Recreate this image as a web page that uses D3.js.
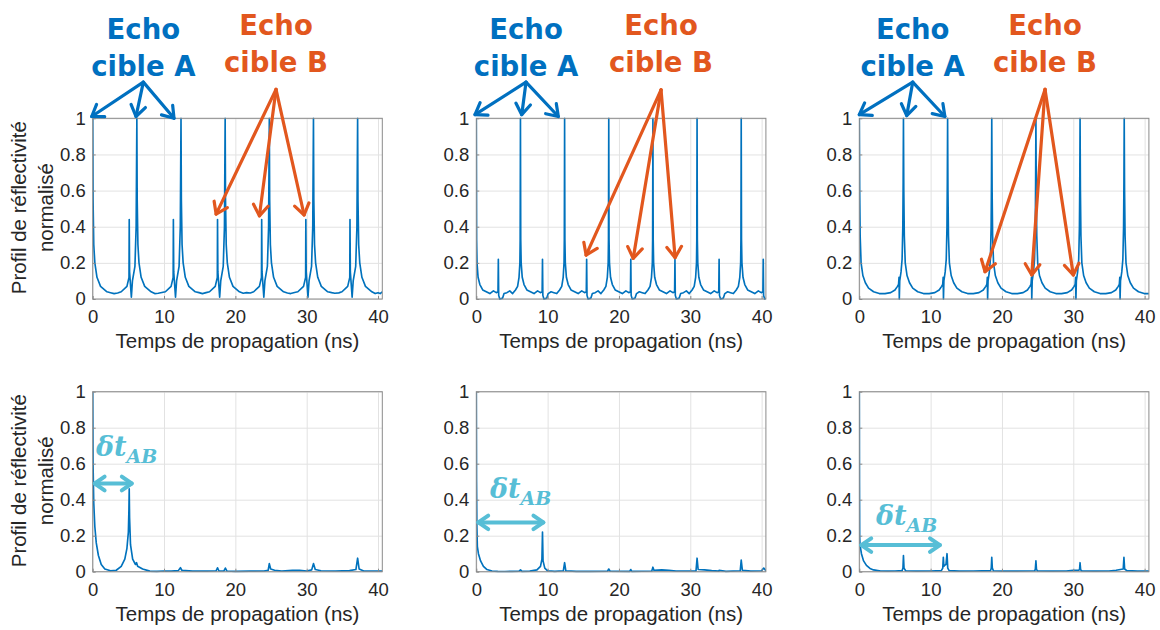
<!DOCTYPE html>
<html><head><meta charset="utf-8">
<script src="https://cdn.jsdelivr.net/npm/d3@7"></script>
<style>body{margin:0;background:#fff}</style>
</head><body>
<svg id="chart" width="1160" height="630"></svg>
<script>
// ---------------- DATA ----------------
const xTicks = [0, 10, 20, 30, 40];
const yTicks = [0, 0.2, 0.4, 0.6, 0.8, 1];
const yTickLabels = ["0", "0.2", "0.4", "0.6", "0.8", "1"];
const xLabel = "Temps de propagation (ns)";
const yLabelLines = ["Profil de réflectivité", "normalisé"];
const labelA = ["Echo", "cible A"];
const labelB = ["Echo", "cible B"];

// top-left: targets A (period 6.19 ns) + B (0.44)
const topLeft = [
[0,1],[0.05,0.55],[0.15,0.3],[0.3,0.2],[0.6,0.12],[1.1,0.07],[2,0.04],[2.5,0.035],[3,0.03],[3.5,0.033],[4,0.04],[4.8,0.07],[5.09,0.12],[5.12,0.44],[5.17,0.15],[5.42,0.01],[5.57,0.1],[5.92,0.18],[6.09,0.4],[6.19,1],
[6.24,0.55],[6.34,0.3],[6.49,0.2],[6.79,0.12],[7.29,0.07],[8.19,0.04],[8.7,0.03],[9.19,0.032],[9.7,0.036],[10.19,0.04],[10.99,0.07],[11.28,0.12],[11.31,0.44],[11.36,0.15],[11.61,0.01],[11.76,0.1],[12.11,0.18],[12.28,0.4],[12.38,1],
[12.43,0.55],[12.53,0.3],[12.68,0.2],[12.98,0.12],[13.48,0.07],[14.38,0.04],[14.9,0.035],[15.38,0.03],[15.9,0.035],[16.38,0.04],[17.18,0.07],[17.47,0.12],[17.5,0.44],[17.55,0.15],[17.8,0.01],[17.95,0.1],[18.3,0.18],[18.47,0.4],[18.57,1],
[18.62,0.55],[18.72,0.3],[18.87,0.2],[19.17,0.12],[19.67,0.07],[20.57,0.04],[21.1,0.032],[21.57,0.035],[22.1,0.033],[22.57,0.04],[23.37,0.07],[23.66,0.12],[23.69,0.44],[23.74,0.15],[23.99,0.01],[24.14,0.1],[24.49,0.18],[24.66,0.4],[24.76,1],
[24.81,0.55],[24.91,0.3],[25.06,0.2],[25.36,0.12],[25.86,0.07],[26.76,0.04],[27.3,0.033],[27.76,0.03],[28.3,0.036],[28.76,0.04],[29.56,0.07],[29.85,0.12],[29.88,0.44],[29.93,0.15],[30.18,0.01],[30.33,0.1],[30.68,0.18],[30.85,0.4],[30.95,1],
[31.0,0.55],[31.1,0.3],[31.25,0.2],[31.55,0.12],[32.05,0.07],[32.95,0.04],[33.5,0.035],[33.95,0.032],[34.5,0.034],[34.95,0.04],[35.75,0.07],[36.04,0.12],[36.07,0.44],[36.12,0.15],[36.37,0.01],[36.52,0.1],[36.87,0.18],[37.04,0.4],[37.14,1],
[37.19,0.55],[37.29,0.3],[37.44,0.2],[37.74,0.12],[38.24,0.07],[39.14,0.04],[39.6,0.03],[40.0,0.035],[40.3,0.03],[40.6,0.04]
];

// top-middle: targets A + B (0.22), B halfway between A echoes
const topMiddle = [
[0,1],[0.04,0.33],[0.1,0.2],[0.25,0.12],[0.5,0.08],[0.9,0.05],[1.4,0.04],[1.9,0.03],[2.4,0.045],[2.8,0.035],[3.04,0.04],[3.09,0.22],[3.14,0.02],[3.29,0.0],[3.69,0.005],[3.89,0.03],[4.29,0.035],[4.69,0.045],[5.09,0.03],[5.49,0.05],[5.79,0.07],[5.99,0.12],[6.11,0.2],[6.15,0.33],[6.19,1],
[6.23,0.33],[6.29,0.2],[6.44,0.12],[6.69,0.08],[7.09,0.05],[7.59,0.04],[8.09,0.03],[8.59,0.045],[8.99,0.035],[9.23,0.04],[9.28,0.22],[9.33,0.02],[9.48,0.0],[9.88,0.005],[10.08,0.03],[10.48,0.04],[10.88,0.035],[11.28,0.03],[11.68,0.05],[11.98,0.07],[12.18,0.12],[12.3,0.2],[12.34,0.33],[12.38,1],
[12.42,0.33],[12.48,0.2],[12.63,0.12],[12.88,0.08],[13.28,0.05],[13.78,0.04],[14.28,0.03],[14.78,0.045],[15.18,0.035],[15.42,0.04],[15.47,0.22],[15.52,0.02],[15.67,0.0],[16.07,0.005],[16.27,0.03],[16.67,0.035],[17.07,0.045],[17.47,0.03],[17.87,0.05],[18.17,0.07],[18.37,0.12],[18.49,0.2],[18.53,0.33],[18.57,1],
[18.61,0.33],[18.67,0.2],[18.82,0.12],[19.07,0.08],[19.47,0.05],[19.97,0.04],[20.47,0.03],[20.97,0.045],[21.37,0.035],[21.61,0.04],[21.66,0.22],[21.71,0.02],[21.86,0.0],[22.26,0.005],[22.46,0.03],[22.86,0.04],[23.26,0.035],[23.66,0.03],[24.06,0.05],[24.36,0.07],[24.56,0.12],[24.68,0.2],[24.72,0.33],[24.76,1],
[24.8,0.33],[24.86,0.2],[25.01,0.12],[25.26,0.08],[25.66,0.05],[26.16,0.04],[26.66,0.03],[27.16,0.045],[27.56,0.035],[27.8,0.04],[27.85,0.22],[27.9,0.02],[28.05,0.0],[28.45,0.005],[28.65,0.03],[29.05,0.035],[29.45,0.045],[29.85,0.03],[30.25,0.05],[30.55,0.07],[30.75,0.12],[30.87,0.2],[30.91,0.33],[30.95,1],
[30.99,0.33],[31.05,0.2],[31.2,0.12],[31.45,0.08],[31.85,0.05],[32.35,0.04],[32.85,0.03],[33.35,0.045],[33.75,0.035],[33.99,0.04],[34.04,0.22],[34.09,0.02],[34.24,0.0],[34.64,0.005],[34.84,0.03],[35.24,0.04],[35.64,0.035],[36.04,0.03],[36.44,0.05],[36.74,0.07],[36.94,0.12],[37.06,0.2],[37.1,0.33],[37.14,1],
[37.18,0.33],[37.24,0.2],[37.39,0.12],[37.64,0.08],[38.04,0.05],[38.54,0.04],[39.04,0.03],[39.54,0.045],[39.94,0.035],[40.18,0.04],[40.23,0.22],[40.28,0.02],[40.43,0.0],[40.6,0.005]
];

// top-right: targets A + weak B just before each A echo
const topRight = [
[0,1],[0.05,0.6],[0.12,0.35],[0.25,0.2],[0.5,0.13],[0.85,0.09],[1.3,0.06],[2,0.04],[2.8,0.03],[3.6,0.03],[4.4,0.035],[5,0.05],[5.35,0.07],[5.5,0.08],[5.57,0.12],[5.61,0.0],[5.67,0.1],[5.85,0.15],[6.0,0.22],[6.1,0.4],[6.15,0.65],[6.19,1],
[6.24,0.6],[6.31,0.35],[6.44,0.2],[6.69,0.13],[7.04,0.09],[7.49,0.06],[8.19,0.04],[8.99,0.03],[9.79,0.03],[10.59,0.035],[11.19,0.05],[11.54,0.07],[11.69,0.08],[11.76,0.12],[11.8,0.0],[11.86,0.1],[12.04,0.15],[12.19,0.22],[12.29,0.4],[12.34,0.65],[12.38,1],
[12.43,0.6],[12.5,0.35],[12.63,0.2],[12.88,0.13],[13.23,0.09],[13.68,0.06],[14.38,0.04],[15.18,0.03],[15.98,0.03],[16.78,0.035],[17.38,0.05],[17.73,0.07],[17.88,0.08],[17.95,0.12],[17.99,0.0],[18.05,0.1],[18.23,0.15],[18.38,0.22],[18.48,0.4],[18.53,0.65],[18.57,1],
[18.62,0.6],[18.69,0.35],[18.82,0.2],[19.07,0.13],[19.42,0.09],[19.87,0.06],[20.57,0.04],[21.37,0.03],[22.17,0.03],[22.97,0.035],[23.57,0.05],[23.92,0.07],[24.07,0.08],[24.14,0.12],[24.18,0.0],[24.24,0.1],[24.42,0.15],[24.57,0.22],[24.67,0.4],[24.72,0.65],[24.76,1],
[24.81,0.6],[24.88,0.35],[25.01,0.2],[25.26,0.13],[25.61,0.09],[26.06,0.06],[26.76,0.04],[27.56,0.03],[28.36,0.03],[29.16,0.035],[29.76,0.05],[30.11,0.07],[30.26,0.08],[30.33,0.12],[30.37,0.0],[30.43,0.1],[30.61,0.15],[30.76,0.22],[30.86,0.4],[30.91,0.65],[30.95,1],
[31.0,0.6],[31.07,0.35],[31.2,0.2],[31.45,0.13],[31.8,0.09],[32.25,0.06],[32.95,0.04],[33.75,0.03],[34.55,0.03],[35.35,0.035],[35.95,0.05],[36.3,0.07],[36.45,0.08],[36.52,0.12],[36.56,0.0],[36.62,0.1],[36.8,0.15],[36.95,0.22],[37.05,0.4],[37.1,0.65],[37.14,1],
[37.19,0.6],[37.26,0.35],[37.39,0.2],[37.64,0.13],[37.99,0.09],[38.44,0.06],[39.14,0.04],[39.94,0.03],[40.6,0.03]
];

// bottom-left: processed profile, B echo at 5.1 ns
const bottomLeft = [
[0,1],[0.05,0.6],[0.15,0.38],[0.3,0.25],[0.5,0.16],[0.8,0.09],[1.2,0.04],[1.7,0.015],[2.5,0.005],[3.3,0.008],[4,0.03],[4.5,0.07],[4.8,0.13],[5.0,0.22],[5.08,0.35],[5.12,0.46],[5.17,0.3],[5.3,0.15],[5.6,0.07],[6.0,0.04],[6.15,0.05],[6.3,0.03],[7,0.015],[8,0.003],[9,0.002],[10,0.004],[11,0.003],[12,0.006],[12.3,0.022],[12.5,0.008],[14,0.003],[16,0.003],[17.3,0.005],[17.5,0.022],[17.7,0.004],[18.4,0.004],[18.6,0.02],[18.8,0.004],[20,0.002],[22,0.003],[24,0.004],[24.6,0.008],[24.76,0.045],[24.95,0.015],[25.5,0.008],[26.5,0.004],[28,0.007],[29,0.008],[30,0.004],[30.7,0.01],[30.95,0.045],[31.2,0.012],[32,0.005],[34,0.004],[36,0.006],[36.9,0.012],[37.14,0.075],[37.35,0.015],[38,0.004],[40.6,0.004]
];

// bottom-middle: B echo at 9.3 ns
const bottomMiddle = [
[0,1],[0.03,0.5],[0.08,0.25],[0.15,0.14],[0.3,0.1],[0.6,0.06],[1,0.03],[1.5,0.012],[2.2,0.004],[3,0.002],[4,0.001],[5,0.002],[6,0.003],[6.2,0.01],[6.4,0.002],[7.5,0.003],[8.5,0.01],[9.0,0.03],[9.2,0.07],[9.28,0.22],[9.36,0.06],[9.6,0.02],[10,0.005],[11,0.002],[12.2,0.005],[12.38,0.05],[12.55,0.005],[14,0.002],[16,0.002],[18.4,0.003],[18.57,0.015],[18.75,0.003],[21.5,0.002],[21.66,0.012],[21.8,0.002],[24.6,0.004],[24.76,0.025],[24.9,0.008],[26,0.01],[27,0.008],[28,0.004],[30.8,0.004],[30.95,0.075],[31.1,0.012],[32,0.01],[33,0.006],[34,0.003],[34.04,0.008],[35,0.002],[37,0.005],[37.14,0.065],[37.3,0.008],[38.5,0.003],[40,0.005],[40.3,0.02],[40.6,0.005]
];

// bottom-right: weak echoes
const bottomRight = [
[0,1],[0.02,0.5],[0.05,0.2],[0.1,0.15],[0.3,0.1],[0.6,0.06],[1,0.035],[1.5,0.018],[2,0.01],[3,0.004],[4,0.003],[5,0.004],[6,0.006],[6.12,0.02],[6.19,0.09],[6.27,0.02],[6.5,0.005],[8,0.003],[10,0.004],[11.5,0.006],[11.7,0.02],[11.78,0.08],[11.86,0.03],[11.95,0.035],[12.15,0.04],[12.3,0.1],[12.4,0.02],[12.6,0.006],[14,0.003],[16,0.004],[18.4,0.006],[18.5,0.02],[18.57,0.08],[18.65,0.02],[18.8,0.005],[20,0.003],[22,0.003],[24.6,0.005],[24.68,0.015],[24.76,0.06],[24.84,0.012],[25,0.004],[27,0.003],[29,0.004],[30,0.008],[30.8,0.008],[30.88,0.015],[30.95,0.05],[31.03,0.01],[31.2,0.004],[33,0.003],[35,0.004],[36,0.008],[37.0,0.015],[37.1,0.08],[37.2,0.015],[37.5,0.006],[39,0.003],[40.6,0.004]
];

// annotation anchor points (data coordinates of each top panel)
const annotTop = [
  { blueApex:[7.1,1.2],  blueTips:[[-0.14,1.01],[6.07,1.01],[11.4,1.0]],
    orangeApex:[25.7,1.16], orangeTips:[[17.3,0.47],[23.37,0.46],[29.64,0.465]] },
  { blueApex:[6.97,1.2], blueTips:[[-0.18,1.02],[6.37,1.02],[11.5,1.01]],
    orangeApex:[25.9,1.157], orangeTips:[[15.39,0.243],[22.0,0.225],[27.87,0.229]] },
  { blueApex:[7.49,1.2], blueTips:[[0,1.02],[6.65,1.015],[12.0,1.01]],
    orangeApex:[26.04,1.16], orangeTips:[[17.63,0.151],[24.18,0.133],[30.0,0.133]] }
];
// delta t_AB annotations (bottom row): arrow end time, arrow level, text start, text baseline
const annotBottom = [
  { tEnd:5.47, level:0.49,  textT:0.45, textV:0.643 },
  { tEnd:9.4,  level:0.274, textT:1.92, textV:0.41 },
  { tEnd:11.3, level:0.148, textT:2.34, textV:0.26 }
];

// ---------------- LAYOUT ----------------
const T_MAX = 40.6;
const colX = [92.7, 476.3, 859.3];
const panelW = 289.6;
const rowY = [118.3, 391.7];
const panelH = [180.7, 180];
const lineColor = "#0072BD";
const blue = "#0070C0", orange = "#E2571E", cyan = "#57BED6";
const axisColor = "#262626";

const svg = d3.select("#chart");
svg.append("rect").attr("width",1160).attr("height",630).attr("fill","#fff");
const defs = svg.append("defs");

const panels = [
  {data: topLeft, c:0, r:0}, {data: topMiddle, c:1, r:0}, {data: topRight, c:2, r:0},
  {data: bottomLeft, c:0, r:1}, {data: bottomMiddle, c:1, r:1}, {data: bottomRight, c:2, r:1}
];

function arrow(g, x1, y1, x2, y2, color, width, head, both) {
  g.append("line").attr("x1",x1).attr("y1",y1).attr("x2",x2).attr("y2",y2)
    .attr("stroke",color).attr("stroke-width",width).attr("stroke-linecap","round");
  const drawHead = (tx, ty, fx, fy) => {
    const ang = Math.atan2(ty - fy, tx - fx);
    const a1 = ang + Math.PI - 0.6, a2 = ang + Math.PI + 0.6;
    g.append("path")
      .attr("d", `M${tx + head*Math.cos(a1)},${ty + head*Math.sin(a1)}L${tx},${ty}L${tx + head*Math.cos(a2)},${ty + head*Math.sin(a2)}`)
      .attr("fill","none").attr("stroke",color).attr("stroke-width",width)
      .attr("stroke-linecap","round").attr("stroke-linejoin","round");
  };
  drawHead(x2, y2, x1, y1);
  if (both) drawHead(x1, y1, x2, y2);
}

const scales = [];
panels.forEach((p, i) => {
  const x0 = colX[p.c], y0 = rowY[p.r], h = panelH[p.r];
  const x = d3.scaleLinear().domain([0, T_MAX]).range([x0, x0 + panelW]);
  const y = d3.scaleLinear().domain([0, 1]).range([y0 + h, y0]);
  scales.push({x, y});
  const g = svg.append("g");

  // grid
  g.append("g").attr("transform",`translate(0,${y0+h})`)
    .call(d3.axisBottom(x).tickValues(xTicks).tickSize(-h).tickFormat(""))
    .call(s => { s.select(".domain").remove(); s.selectAll("line").attr("stroke","#e2e2e2"); });
  g.append("g").attr("transform",`translate(${x0},0)`)
    .call(d3.axisLeft(y).tickValues(yTicks).tickSize(-panelW).tickFormat(""))
    .call(s => { s.select(".domain").remove(); s.selectAll("line").attr("stroke","#e2e2e2"); });

  // curve
  const cid = "clip" + i;
  defs.append("clipPath").attr("id", cid).append("rect")
    .attr("x", x0).attr("y", y0 - 1).attr("width", panelW).attr("height", h + 2);
  g.append("path").datum(p.data)
    .attr("clip-path", `url(#${cid})`)
    .attr("fill","none").attr("stroke",lineColor).attr("stroke-width",1.65)
    .attr("stroke-linejoin","round")
    .attr("d", d3.line().x(d => x(d[0])).y(d => y(d[1])));

  // frame
  g.append("rect").attr("x",x0).attr("y",y0).attr("width",panelW).attr("height",h)
    .attr("fill","none").attr("stroke","#8a8a8a").attr("stroke-width",1);

  // axes with labels (inward ticks)
  const ax = g.append("g").attr("transform",`translate(0,${y0+h})`)
    .call(d3.axisBottom(x).tickValues(xTicks).tickSizeInner(-3).tickSizeOuter(0).tickPadding(11));
  const ay = g.append("g").attr("transform",`translate(${x0},0)`)
    .call(d3.axisLeft(y).tickValues(yTicks).tickFormat((d,k) => yTickLabels[k])
      .tickSizeInner(-3).tickSizeOuter(0).tickPadding(7));
  [ax, ay].forEach(a => {
    a.select(".domain").remove();
    a.selectAll("line").attr("stroke","#8a8a8a");
    a.selectAll("text").attr("fill",axisColor).style("font-family","'Liberation Sans', Arial, sans-serif")
      .style("font-size","18.5px");
  });

  // x label
  g.append("text").attr("x", x0 + panelW/2).attr("y", y0 + h + 49)
    .attr("text-anchor","middle").attr("fill",axisColor)
    .style("font-family","'Liberation Sans', Arial, sans-serif").style("font-size","20.5px")
    .text(xLabel);

  // y label on left column
  if (p.c === 0) {
    const cy = y0 + h/2 - 1;
    yLabelLines.forEach((t, k) => {
      g.append("text").attr("transform",`translate(${[26,53][k]},${cy}) rotate(-90)`)
        .attr("text-anchor","middle").attr("fill",axisColor)
        .style("font-family","'Liberation Sans', Arial, sans-serif").style("font-size","20.5px")
        .text(t);
    });
  }
});

// ---- annotations top ----
const annFont = "'DejaVu Sans', sans-serif";
annotTop.forEach((a, c) => {
  const {x, y} = scales[c];
  const g = svg.append("g");
  const bx = x(a.blueApex[0]), by = y(a.blueApex[1]);
  a.blueTips.forEach(t => arrow(g, bx, by, x(t[0]), y(t[1]), blue, 3.2, 13));
  const ox = x(a.orangeApex[0]), oy = y(a.orangeApex[1]);
  a.orangeTips.forEach(t => arrow(g, ox, oy, x(t[0]), y(t[1]), orange, 3.2, 13));
  [[labelA, bx, blue, [39, 76]], [labelB, ox, orange, [35, 72]]].forEach(([lbl, cx, col, bys]) => {
    lbl.forEach((t, k) => {
      g.append("text").attr("x", cx).attr("y", bys[k]).attr("text-anchor","middle")
        .attr("fill", col).style("font-family", annFont).style("font-weight","700")
        .style("font-size","27.5px").text(t);
    });
  });
});

// ---- annotations bottom ----
annotBottom.forEach((a, c) => {
  const {x, y} = scales[c + 3];
  const g = svg.append("g");
  arrow(g, x(0) + 2, y(a.level), x(a.tEnd), y(a.level), cyan, 4, 12, true);
  const t = g.append("text").attr("x", x(a.textT)).attr("y", y(a.textV))
    .attr("fill", cyan).style("font-family","'DejaVu Serif', serif")
    .style("font-weight","700").style("font-style","italic").style("font-size","27px");
  t.append("tspan").text("δt");
  t.append("tspan").attr("dy", 7).style("font-size","19px").text("AB");
});
</script>
</body></html>
